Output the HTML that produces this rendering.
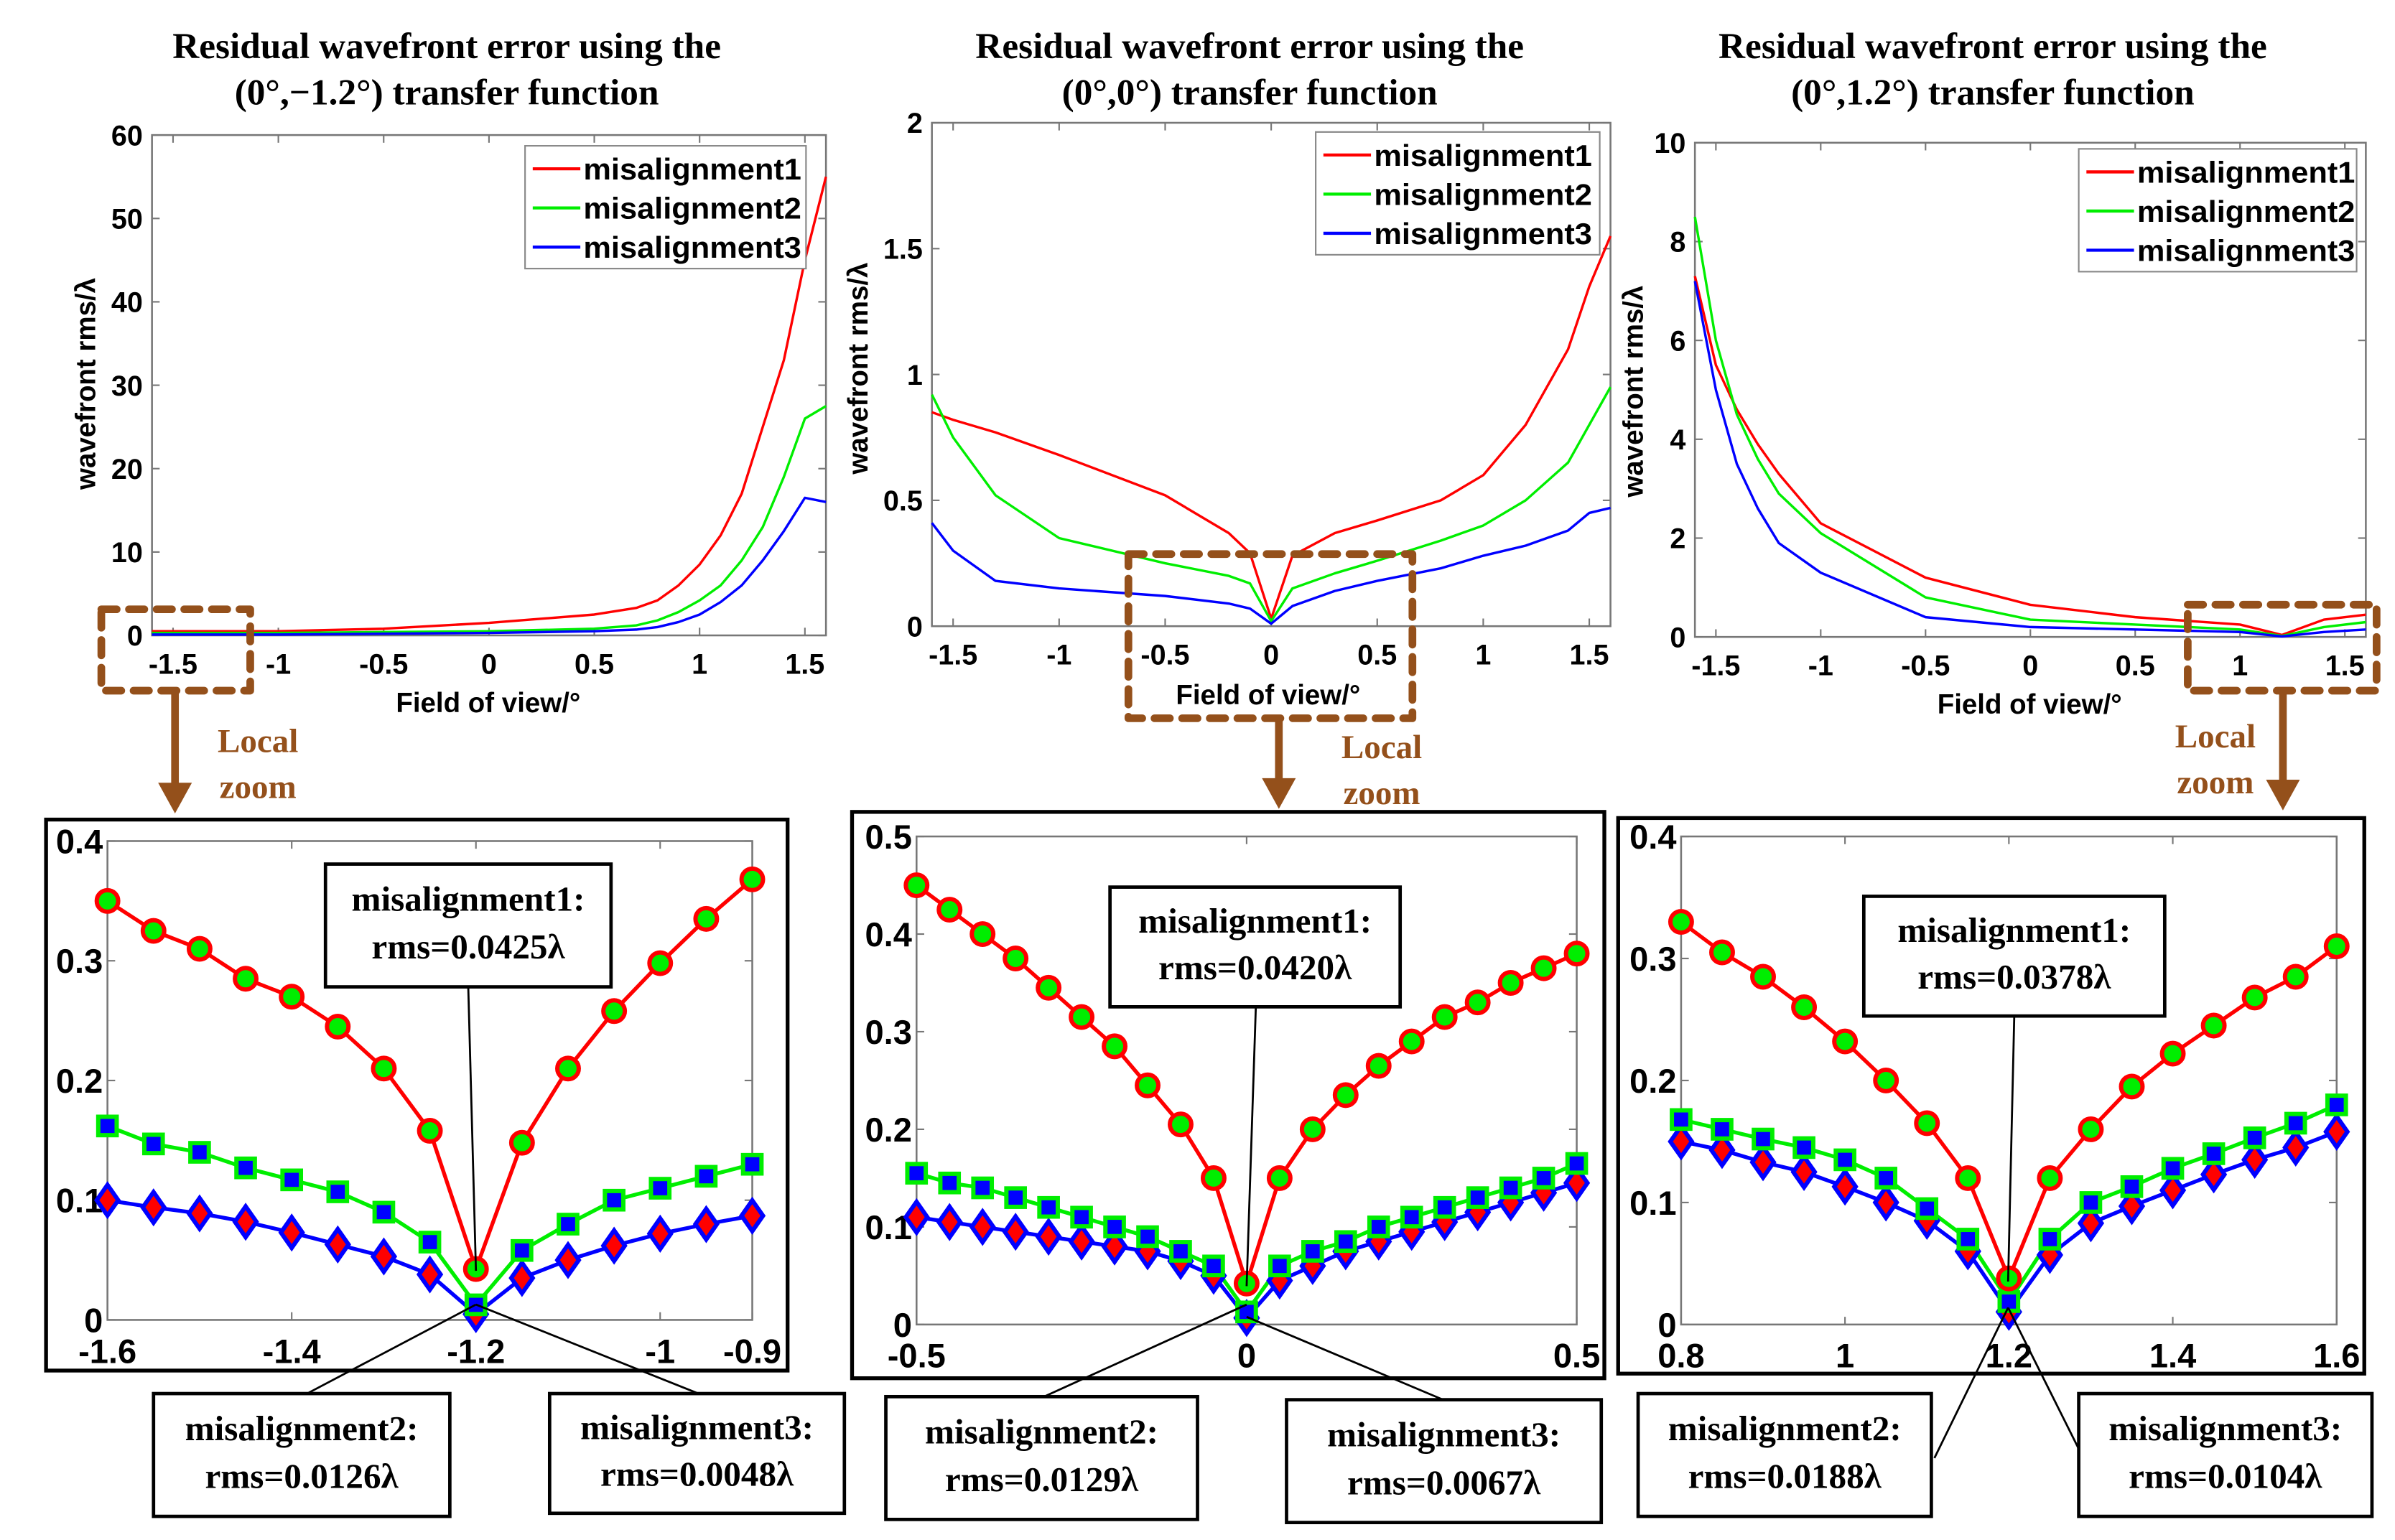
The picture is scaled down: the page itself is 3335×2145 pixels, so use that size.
<!DOCTYPE html>
<html><head><meta charset="utf-8"><style>
html,body{margin:0;padding:0;background:#fff;}
svg{display:block;}
.t{font-family:"Liberation Sans",Arial,sans-serif;font-weight:bold;fill:#000;}
.s{font-family:"Liberation Serif","Times New Roman",serif;font-weight:bold;fill:#000;}
</style></head><body>
<svg id="fig" xmlns="http://www.w3.org/2000/svg" width="3335" height="2145" viewBox="0 0 1560 1003.4" preserveAspectRatio="none"></svg>
<script>
// ---- top plots data ----
const top1X=[-1.6,-1.0,-0.5,0,0.5,0.7,0.8,0.9,1.0,1.1,1.2,1.3,1.4,1.5,1.6];
const top1Red=[0.5,0.5,0.8,1.5,2.5,3.3,4.2,6,8.5,12,17,25,33,45,55];
const top1Green=[0.3,0.3,0.4,0.5,0.8,1.2,1.8,2.8,4.2,6,9,13,19,26,27.5];
const top1Blue=[0.1,0.1,0.2,0.3,0.5,0.7,1,1.6,2.5,4,6,9,12.5,16.5,16];
const top2X=[-1.6,-1.5,-1.3,-1.0,-0.5,-0.2,-0.1,0,0.1,0.3,0.5,0.8,1.0,1.2,1.4,1.5,1.6];
const top2Red=[0.85,0.82,0.77,0.68,0.52,0.37,0.29,0.03,0.28,0.37,0.42,0.5,0.6,0.8,1.1,1.35,1.55];
const top2Green=[0.92,0.75,0.52,0.35,0.25,0.2,0.17,0.02,0.15,0.21,0.26,0.34,0.4,0.5,0.65,0.8,0.95];
const top2Blue=[0.41,0.3,0.18,0.15,0.12,0.09,0.07,0.01,0.08,0.14,0.18,0.23,0.28,0.32,0.38,0.45,0.47];
const top3X=[-1.6,-1.5,-1.4,-1.3,-1.2,-1.0,-0.5,0,0.5,1.0,1.2,1.4,1.6];
const top3Red=[7.3,5.5,4.6,3.9,3.3,2.3,1.2,0.65,0.4,0.25,0.04,0.35,0.45];
const top3Green=[8.5,6,4.5,3.6,2.9,2.1,0.8,0.35,0.25,0.15,0.02,0.2,0.3];
const top3Blue=[7.2,5,3.5,2.6,1.9,1.3,0.4,0.2,0.15,0.1,0.01,0.1,0.15];
// ---- zoom plots data ----
const z1X=[-1.6,-1.55,-1.5,-1.45,-1.4,-1.35,-1.3,-1.25,-1.2,-1.15,-1.1,-1.05,-1.0,-0.95,-0.9];
const z1Red=[0.35,0.325,0.31,0.285,0.27,0.245,0.21,0.158,0.0425,0.148,0.21,0.258,0.298,0.335,0.368];
const z1Green=[0.162,0.147,0.14,0.127,0.117,0.107,0.09,0.065,0.0126,0.058,0.08,0.1,0.11,0.12,0.13];
const z1Blue=[0.1,0.094,0.089,0.082,0.073,0.063,0.053,0.038,0.0048,0.035,0.05,0.062,0.072,0.08,0.087];
const z2X=[-0.5,-0.45,-0.4,-0.35,-0.3,-0.25,-0.2,-0.15,-0.1,-0.05,0,0.05,0.1,0.15,0.2,0.25,0.3,0.35,0.4,0.45,0.5];
const z2Red=[0.45,0.425,0.4,0.375,0.345,0.315,0.285,0.245,0.205,0.15,0.042,0.15,0.2,0.235,0.265,0.29,0.315,0.33,0.35,0.365,0.38];
const z2Green=[0.155,0.145,0.14,0.13,0.12,0.11,0.1,0.09,0.075,0.06,0.0129,0.06,0.075,0.085,0.1,0.11,0.12,0.13,0.14,0.15,0.165];
const z2Blue=[0.11,0.105,0.1,0.095,0.09,0.085,0.08,0.075,0.065,0.05,0.0067,0.045,0.06,0.075,0.085,0.095,0.105,0.115,0.125,0.135,0.145];
const z3X=[0.8,0.85,0.9,0.95,1.0,1.05,1.1,1.15,1.2,1.25,1.3,1.35,1.4,1.45,1.5,1.55,1.6];
const z3Red=[0.33,0.305,0.285,0.26,0.232,0.2,0.165,0.12,0.0378,0.12,0.16,0.195,0.222,0.245,0.268,0.285,0.31];
const z3Green=[0.168,0.16,0.152,0.145,0.135,0.12,0.095,0.07,0.0188,0.07,0.1,0.113,0.128,0.14,0.153,0.165,0.18];
const z3Blue=[0.15,0.143,0.133,0.125,0.113,0.1,0.085,0.06,0.0104,0.057,0.083,0.097,0.11,0.123,0.135,0.145,0.158];
const topXTicks=[-1.5,-1,-0.5,0,0.5,1,1.5];
const top1YTicks=[0,10,20,30,40,50,60];
const top2YTicks=[0,0.5,1,1.5,2];
const top3YTicks=[0,2,4,6,8,10];
const z1XTicks=[-1.6,-1.4,-1.2,-1,-0.9];
const z2XTicks=[-0.5,0,0.5];
const z3XTicks=[0.8,1,1.2,1.4,1.6];
const zYTicks1=[0,0.1,0.2,0.3,0.4];
const zYTicks2=[0,0.1,0.2,0.3,0.4,0.5];

const NS="http://www.w3.org/2000/svg";
const svg=document.getElementById('fig');
function mk(tag,attrs,parent,text){const e=document.createElementNS(NS,tag);for(const k in attrs)e.setAttribute(k,attrs[k]);if(text!==undefined)e.textContent=text;(parent||svg).appendChild(e);return e;}
function lab(v){return (v<0?'-':'')+String(Math.abs(v));}

function axes(o){
  const g=mk('g',{});
  
  
  const sx=v=>o.x0+(v-o.xmin)/(o.xmax-o.xmin)*(o.x1-o.x0);
  const sy=v=>o.y0-(v-o.ymin)/(o.ymax-o.ymin)*(o.y0-o.y1);
  const fr=mk('rect',{x:o.x0,y:o.y1,width:o.x1-o.x0,height:o.y0-o.y1,fill:'#fff',stroke:'#777','stroke-width':1.2},g);
  
  
  o.xt.forEach(v=>{const X=sx(v);
    mk('line',{x1:X,x2:X,y1:o.y0,y2:o.y0-5,stroke:'#777','stroke-width':1},g);
    mk('line',{x1:X,x2:X,y1:o.y1,y2:o.y1+5,stroke:'#777','stroke-width':1},g);
    const t=mk('text',{x:X,y:o.y0+o.xo,'text-anchor':'middle',class:'t','font-size':o.fs},g,lab(v));
    
    
  });
  o.yt.forEach(v=>{const Y=sy(v);
    mk('line',{x1:o.x0,x2:o.x0+5,y1:Y,y2:Y,stroke:'#777','stroke-width':1},g);
    mk('line',{x1:o.x1,x2:o.x1-5,y1:Y,y2:Y,stroke:'#777','stroke-width':1},g);
    const t=mk('text',{x:o.x0-o.yo,y:Y+o.fs*0.36,'text-anchor':'end',class:'t','font-size':o.fs},g,lab(v));
    
    
  });
  return {g,sx,sy};
}
function line(ax,xs,ys,col,w,name){
  const p=mk('polyline',{points:xs.map((x,i)=>ax.sx(x)+','+ax.sy(ys[i])).join(' '),fill:'none',stroke:col,'stroke-width':w,'stroke-linejoin':'round'},ax.g);
  
  
}
function markers(ax,xs,ys,shape,fillc,strokec,name){
  xs.forEach((x,i)=>{const X=ax.sx(x),Y=ax.sy(ys[i]);let m;
    if(shape==='circle')m=mk('circle',{cx:X,cy:Y,r:7,fill:fillc,stroke:strokec,'stroke-width':2.8},ax.g);
    else if(shape==='square')m=mk('rect',{x:X-6,y:Y-6,width:12,height:12,fill:fillc,stroke:strokec,'stroke-width':2.8},ax.g);
    else m=mk('polygon',{points:`${X},${Y-10} ${X+7},${Y} ${X},${Y+10} ${X-7},${Y}`,fill:fillc,stroke:strokec,'stroke-width':2.8},ax.g);
    
    
  });
}
function legend(x,y,w,h,parent){
  const g=mk('g',{},parent);
  
  
  mk('rect',{x,y,width:w,height:h,fill:'#fff',stroke:'#888','stroke-width':1},g);
  [['#f00','misalignment1'],['#0e0','misalignment2'],['#00f','misalignment3']].forEach((c,i)=>{
    const yy=y+15+i*25.5;
    mk('line',{x1:x+5,x2:x+36,y1:yy,y2:yy,stroke:c[0],'stroke-width':2},g);
    const t=mk('text',{x:x+38,y:yy+7,class:'t','font-size':19.5,textLength:142,lengthAdjust:'spacingAndGlyphs'},g,c[1]);
    
    
  });
}
function title(cx,l1,l2){
  const t=mk('text',{x:cx,y:38,'text-anchor':'middle',class:'s','font-size':24},svg,l1);
  
  
  const t2=mk('text',{x:cx,y:68,'text-anchor':'middle',class:'s','font-size':24},svg,l2);
  
  
}
function ylab(x,y){
  const t=mk('text',{x:0,y:0,transform:`translate(${x},${y}) rotate(-90)`,'text-anchor':'middle',class:'t','font-size':18},svg,'wavefront rms/λ');
  
  
}
function xlab(x,y){
  const t=mk('text',{x,y,'text-anchor':'middle',class:'t','font-size':18},svg,'Field of view/°');
  
  
}

// ---- top plots ----
title(291,'Residual wavefront error using the','(0°,−1.2°) transfer function');
title(814,'Residual wavefront error using the','(0°,0°) transfer function');
title(1298,'Residual wavefront error using the','(0°,1.2°) transfer function');

let a=axes({name:'top-chart-1',x0:99,x1:538,y0:414,y1:88,xmin:-1.6,xmax:1.6,ymin:0,ymax:60,xt:topXTicks,yt:top1YTicks,fs:18.5,xo:25,yo:6});
line(a,top1X,top1Red,'#f00',1.6,'line-misalignment1');
line(a,top1X,top1Green,'#0e0',1.6,'line-misalignment2');
line(a,top1X,top1Blue,'#00f',1.6,'line-misalignment3');
legend(342,95,183,80,a.g);
ylab(62,250);xlab(318,464);

a=axes({name:'top-chart-2',x0:607,x1:1049,y0:408,y1:80,xmin:-1.6,xmax:1.6,ymin:0,ymax:2,xt:topXTicks,yt:top2YTicks,fs:18.5,xo:25,yo:6});
line(a,top2X,top2Red,'#f00',1.6,'line-misalignment1');
line(a,top2X,top2Green,'#0e0',1.6,'line-misalignment2');
line(a,top2X,top2Blue,'#00f',1.6,'line-misalignment3');
legend(857,86,185,80,a.g);
ylab(565,240);xlab(826,459);

a=axes({name:'top-chart-3',x0:1104,x1:1541,y0:415,y1:93,xmin:-1.6,xmax:1.6,ymin:0,ymax:10,xt:topXTicks,yt:top3YTicks,fs:18.5,xo:25,yo:6});
line(a,top3X,top3Red,'#f00',1.6,'line-misalignment1');
line(a,top3X,top3Green,'#0e0',1.6,'line-misalignment2');
line(a,top3X,top3Blue,'#00f',1.6,'line-misalignment3');
legend(1354,97,181,80,a.g);
ylab(1070,255);xlab(1322,465);

// ---- dashed zoom boxes, arrows, labels ----
const brown='#94501b';
[[66,397,97,53],[735,361,185,107],[1425,394,123,56]].forEach(b=>{
  const r=mk('rect',{x:b[0],y:b[1],width:b[2],height:b[3],fill:'none',stroke:brown,'stroke-width':5,'stroke-dasharray':'10 8','stroke-linecap':'round','stroke-linejoin':'round'});
  
  
});
[[114,450,530],[833,468,527],[1487,450,528]].forEach(ar=>{
  const g=mk('g',{});
  
  
  mk('line',{x1:ar[0],x2:ar[0],y1:ar[1],y2:ar[2]-18,stroke:brown,'stroke-width':5},g);
  mk('polygon',{points:`${ar[0]-11},${ar[2]-20} ${ar[0]+11},${ar[2]-20} ${ar[0]},${ar[2]}`,fill:brown},g);
});
[[168,490],[900,494],[1443,487]].forEach(p=>{
  const t=mk('text',{x:p[0],y:p[1],'text-anchor':'middle',class:'s','font-size':22,style:'fill:'+brown},svg,'Local');
  
  
  const t2=mk('text',{x:p[0],y:p[1]+30,'text-anchor':'middle',class:'s','font-size':22,style:'fill:'+brown},svg,'zoom');
  
  
});

// ---- zoom panels ----
function panel(box,opt,xs,r,gr,bl){
  const o=mk('rect',{x:box[0],y:box[1],width:box[2],height:box[3],fill:'#fff',stroke:'#000','stroke-width':2.5});
  
  
  const ax=axes(opt);
  line(ax,xs,r,'#f00',2.5,'line-misalignment1');
  line(ax,xs,gr,'#0e0',2.5,'line-misalignment2');
  line(ax,xs,bl,'#00f',2.5,'line-misalignment3');
  markers(ax,xs,bl,'diamond','#f00','#00f','marker-misalignment3');
  markers(ax,xs,gr,'square','#00f','#0e0','marker-misalignment2');
  markers(ax,xs,r,'circle','#0e0','#f00','marker-misalignment1');
  return ax;
}
panel([30,534,483,359],{name:'zoom-chart-1',x0:70,x1:490,y0:860,y1:548,xmin:-1.6,xmax:-0.9,ymin:0,ymax:0.4,xt:z1XTicks,yt:zYTicks1,fs:22,xo:28,yo:3},z1X,z1Red,z1Green,z1Blue);
panel([555,529,490,369],{name:'zoom-chart-2',x0:597,x1:1027,y0:863,y1:545,xmin:-0.5,xmax:0.5,ymin:0,ymax:0.5,xt:z2XTicks,yt:zYTicks2,fs:22,xo:28,yo:3},z2X,z2Red,z2Green,z2Blue);
panel([1054,533,486,362],{name:'zoom-chart-3',x0:1095,x1:1522,y0:863,y1:545,xmin:0.8,xmax:1.6,ymin:0,ymax:0.4,xt:z3XTicks,yt:zYTicks1,fs:22,xo:28,yo:3},z3X,z3Red,z3Green,z3Blue);

// ---- annotations ----
const notes=[
 [212,563,186,80,'misalignment1:','rms=0.0425λ',305,643,310,828],
 [100,908,193,80,'misalignment2:','rms=0.0126λ',200,908,310,850],
 [358,908,192,78,'misalignment3:','rms=0.0048λ',455,908,310,850],
 [723,578,189,78,'misalignment1:','rms=0.0420λ',818,656,812,838],
 [577,910,203,80,'misalignment2:','rms=0.0129λ',680,910,812,850],
 [838,912,205,80,'misalignment3:','rms=0.0067λ',940,912,812,858],
 [1214,584,196,78,'misalignment1:','rms=0.0378λ',1312,662,1308,835],
 [1067,908,191,80,'misalignment2:','rms=0.0188λ',1260,950,1308,852],
 [1354,908,191,80,'misalignment3:','rms=0.0104λ',1356,948,1308,852]
];
notes.forEach(n=>{
  const g=mk('g',{});
  
  
  mk('line',{x1:n[6],y1:n[7],x2:n[8],y2:n[9],stroke:'#000','stroke-width':1.3},g);
  mk('rect',{x:n[0],y:n[1],width:n[2],height:n[3],fill:'#fff',stroke:'#000','stroke-width':2.2},g);
  mk('text',{x:n[0]+n[2]/2,y:n[1]+n[3]*0.38,'text-anchor':'middle',class:'s','font-size':23},g,n[4]);
  mk('text',{x:n[0]+n[2]/2,y:n[1]+n[3]*0.77,'text-anchor':'middle',class:'s','font-size':23},g,n[5]);
});
</script>
</body></html>
